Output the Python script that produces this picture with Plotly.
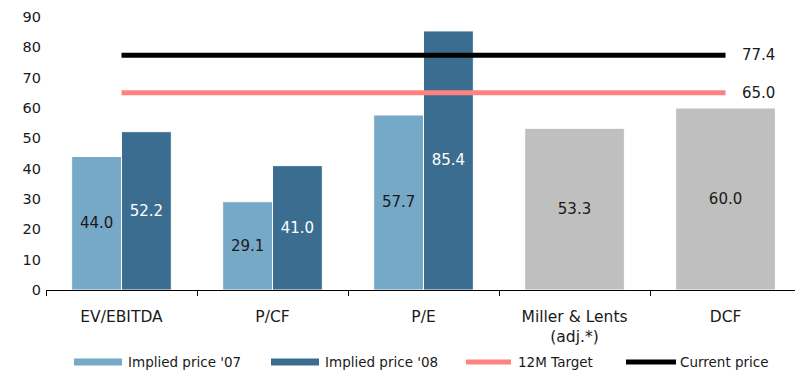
import plotly.graph_objects as go

# Valuation methods and implied share prices
categories = ["EV/EBITDA", "P/CF", "P/E", "Miller & Lents<br>(adj.*)", "DCF"]
implied_07 = [44.0, 29.1, 57.7]
implied_08 = [52.2, 41.0, 85.4]
other_methods = [53.3, 60.0]
target_12m = 65.0
current_price = 77.4

legend_labels = ["Implied price '07", "Implied price '08", "12M Target", "Current price"]

C07 = "#76a8c8"
C08 = "#3a6d8f"
CGREY = "#bfbfbf"
CPINK = "#ff8282"
CBLACK = "#000000"
FONT = "DejaVu Sans"

W, H = 795, 372
ML, MR, MT, MB = 46, 0, 17, 82
PW, PH = W - ML - MR, H - MT - MB

fig = go.Figure()

fig.add_trace(go.Bar(
    x=categories[:3], y=implied_07, width=0.33, offset=-0.33,
    marker=dict(color=C07, line=dict(color="white", width=1)),
    text=[f"{v:.1f}" for v in implied_07], textposition="inside",
    insidetextanchor="middle", textangle=0,
    textfont=dict(family=FONT, size=15, color="#1a1a1a"),
    name=legend_labels[0], showlegend=False,
))
fig.add_trace(go.Bar(
    x=categories[:3], y=implied_08, width=0.33, offset=0,
    marker=dict(color=C08, line=dict(color="white", width=1)),
    text=[f"{v:.1f}" for v in implied_08], textposition="inside",
    insidetextanchor="middle", textangle=0,
    textfont=dict(family=FONT, size=15, color="white"),
    name=legend_labels[1], showlegend=False,
))
fig.add_trace(go.Bar(
    x=categories[3:], y=other_methods, width=0.66, offset=-0.33,
    marker=dict(color=CGREY, line=dict(color="white", width=1)),
    text=[f"{v:.1f}" for v in other_methods], textposition="inside",
    insidetextanchor="middle", textangle=0,
    textfont=dict(family=FONT, size=15, color="#1a1a1a"),
    showlegend=False,
))

def level_line(value, color, name):
    n = len(categories)
    fig.add_trace(go.Scatter(
        x=categories, y=[value] * n, mode="lines",
        line=dict(color=color, width=5),
        name=name, showlegend=False, cliponaxis=False,
    ))
    # value label to the right of the line's end
    fig.add_annotation(x=categories[-1], y=value, text=f"{value:.1f}",
                       showarrow=False, xanchor="left", yanchor="middle",
                       xshift=14, font=dict(family=FONT, size=15, color="#1a1a1a"))

level_line(target_12m, CPINK, legend_labels[2])
level_line(current_price, CBLACK, legend_labels[3])

# Legend drawn as wide swatches with labels underneath the chart
def px_x(x):
    return (x - ML) / PW

def px_y(y):
    return (H - MB - y) / PH

legend_y = 362
swatches = [
    (74, 122, C07, "rect", 126),
    (271, 319, C08, "rect", 323),
    (464, 513, CPINK, "line", 516),
    (624, 678, CBLACK, "line", 678),
]
for (x0, x1, col, kind, tx), label in zip(swatches, legend_labels):
    if kind == "rect":
        fig.add_shape(type="rect", xref="paper", yref="paper",
                      x0=px_x(x0), x1=px_x(x1),
                      y0=px_y(legend_y + 3.5), y1=px_y(legend_y - 3.5),
                      fillcolor=col, line=dict(width=0), layer="above")
    else:
        fig.add_shape(type="line", xref="paper", yref="paper",
                      x0=px_x(x0 + 2), x1=px_x(x1 - 2),
                      y0=px_y(legend_y), y1=px_y(legend_y),
                      line=dict(color=col, width=5), layer="above")
    fig.add_annotation(xref="paper", yref="paper", x=px_x(tx), y=px_y(legend_y),
                       text=label, showarrow=False, xanchor="left", yanchor="middle",
                       font=dict(family=FONT, size=13.5, color="#1a1a1a"))

fig.update_layout(
    width=W, height=H,
    margin=dict(l=ML, r=MR, t=MT, b=MB, pad=0),
    paper_bgcolor="white", plot_bgcolor="white",
    barmode="overlay", showlegend=False,
    font=dict(family=FONT, size=15, color="#1a1a1a"),
    xaxis=dict(
        type="category", range=[-0.5, 4.46],
        showline=True, linecolor="black", linewidth=1,
        ticks="outside", ticklen=5, tickcolor="black", tickson="boundaries",
        ticklabelstandoff=12,
        tickfont=dict(family=FONT, size=15.5, color="#1a1a1a"),
        showgrid=False, zeroline=False, fixedrange=True,
    ),
    yaxis=dict(
        range=[0, 90], dtick=10, showline=False, showgrid=False,
        zeroline=False, ticks="", ticklabelstandoff=4,
        tickfont=dict(family=FONT, size=14.5, color="#1a1a1a"),
    ),
)

fig.write_html("out.html")
